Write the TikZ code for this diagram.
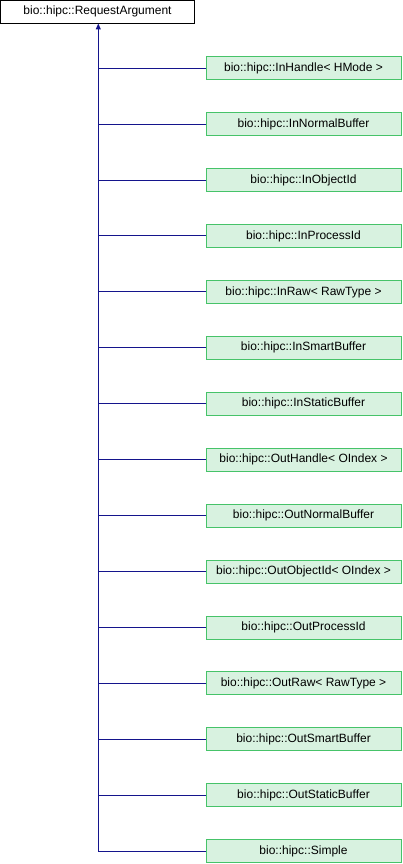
\documentclass[tikz,border=0pt]{standalone}
\usepackage{fontspec}
\setmainfont{Liberation Sans}
\usetikzlibrary{arrows.meta}
\definecolor{edgeblue}{RGB}{20,20,140}
\definecolor{boxfill}{RGB}{216,242,224}
\definecolor{boxdraw}{RGB}{70,195,105}
\begin{document}
\begin{tikzpicture}[x=1pt,y=-1pt,
  base/.style={draw=black,fill=white,minimum width=194pt,minimum height=22.5pt,inner sep=0pt,font=\fontsize{12}{14}\selectfont,line width=0.9pt},
  derived/.style={draw=boxdraw,fill=boxfill,minimum width=195pt,minimum height=23pt,inner sep=0pt,font=\fontsize{12}{14}\selectfont,line width=0.9pt},
  edge/.style={draw=edgeblue,line width=1pt}]
\useasboundingbox (0,0) rectangle (402,864);
\node[base] (top) at (97.5,11.8) {bio::hipc::RequestArgument};
\foreach \i/\name/\lab in {
 0/a/{bio::hipc::InHandle< HMode >},
 1/b/{bio::hipc::InNormalBuffer},
 2/c/{bio::hipc::InObjectId},
 3/d/{bio::hipc::InProcessId},
 4/e/{bio::hipc::InRaw< RawType >},
 5/f/{bio::hipc::InSmartBuffer},
 6/g/{bio::hipc::InStaticBuffer},
 7/h/{bio::hipc::OutHandle< OIndex >},
 8/i/{bio::hipc::OutNormalBuffer},
 9/j/{bio::hipc::OutObjectId< OIndex >},
 10/k/{bio::hipc::OutProcessId},
 11/l/{bio::hipc::OutRaw< RawType >},
 12/m/{bio::hipc::OutSmartBuffer},
 13/n/{bio::hipc::OutStaticBuffer},
 14/o/{bio::hipc::Simple}}
{
 \node[derived] (\name) at (303.5,{68.2+55.93*\i}) {\lab};
 \coordinate (j\name) at (98.3,{68.2+55.93*\i});
 \draw[edge] (j\name) -- (\name.west);
}
\draw[edge,-{Triangle[length=6pt,width=5pt]}] (jo) -- (top.south -| jo);
\end{tikzpicture}
\end{document}
